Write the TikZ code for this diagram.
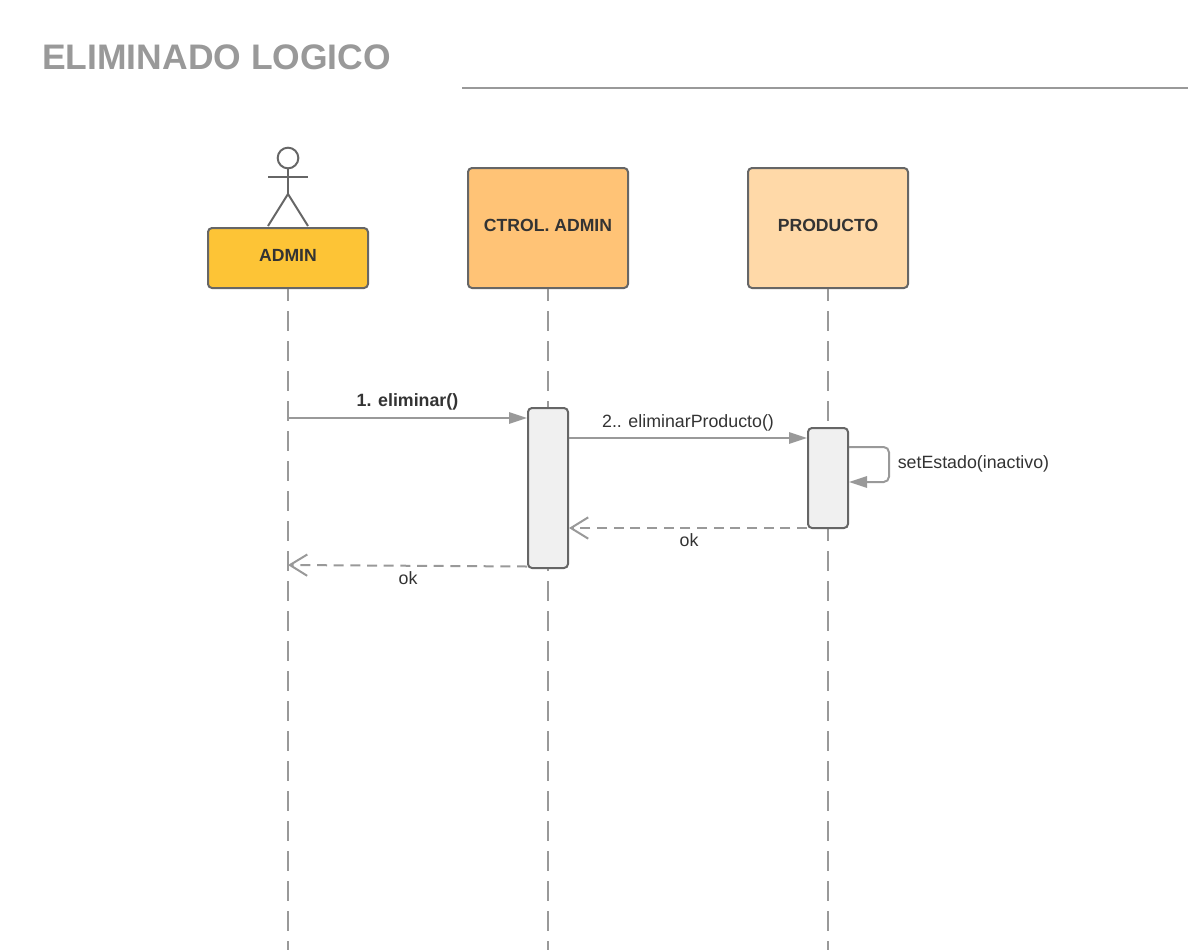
\documentclass[tikz,border=0pt]{standalone}
\usepackage{fontspec}
\setmainfont{Liberation Sans}
\usetikzlibrary{arrows.meta}
\definecolor{linegray}{HTML}{999999}
\definecolor{boxedge}{HTML}{666666}
\definecolor{txt}{HTML}{333333}
\definecolor{adminfill}{RGB}{253,196,54}
\definecolor{ctrlfill}{RGB}{255,195,118}
\definecolor{prodfill}{RGB}{255,217,168}
\definecolor{actfill}{RGB}{240,240,240}
\tikzset{
  x=0.75pt,y=-0.75pt,
  actorbox/.style={draw=boxedge,line width=1.5pt,rounded corners=3pt,minimum width=120pt,inner sep=0pt,text=txt,text height=9pt,text depth=4.5pt,font=\fontsize{13.2}{15}\selectfont\bfseries},
  activation/.style={draw=boxedge,line width=1.5pt,fill=actfill,rounded corners=3pt,minimum width=30pt,inner sep=0pt},
  lifeline/.style={draw=linegray,line width=1.5pt,dash pattern=on 15pt off 7.5pt,dash phase=6pt},
  msg/.style={draw=linegray,line width=1.5pt,-{Triangle[length=13.5pt,width=8.5pt,fill=linegray]}},
  selfmsg/.style={draw=linegray,line width=1.5pt,rounded corners=4pt,-{Triangle[length=13.5pt,width=8.5pt,fill=linegray]}},
  reply/.style={draw=linegray,line width=1.5pt,dash pattern=on 7.5pt off 5pt,-{Straight Barb[length=13pt,width=16pt]}},
  lbl/.style={text=txt,inner sep=0pt,font=\fontsize{13.35}{15}\selectfont},
  boldlbl/.style={lbl,font=\fontsize{13.35}{15}\selectfont\bfseries},
  stick/.style={draw=boxedge,line width=1.5pt}
}
\begin{document}
\begin{tikzpicture}
\useasboundingbox (0,0) rectangle (1188,950);
\node[anchor=west,inner sep=0pt,text=linegray,font=\fontsize{26.6}{30}\selectfont\bfseries] (title) at (42,57) {ELIMINADO LOGICO};
\coordinate (ruleA) at (462,88);
\coordinate (ruleB) at (1188,88);
\draw[linegray,line width=1.5pt] (ruleA) -- (ruleB);

\node[actorbox,fill=adminfill,minimum height=45pt] (admin) at (288,258) {ADMIN};
\node[actorbox,fill=ctrlfill,minimum height=90pt] (ctrl) at (548,228) {CTROL. ADMIN};
\node[actorbox,fill=prodfill,minimum height=90pt] (prod) at (828,228) {PRODUCTO};

\coordinate (endA) at (288,950);
\coordinate (endC) at (548,950);
\coordinate (endP) at (828,950);
\draw[lifeline] (admin.south) -- (endA);
\draw[lifeline] (ctrl.south) -- (endC);
\draw[lifeline] (prod.south) -- (endP);

% actor figure
\node[draw=boxedge,line width=1.5pt,circle,minimum size=15.5pt,inner sep=0pt] (head) at (288,158) {};
\coordinate (hip) at (288,194);
\coordinate (armL) at (268,177);
\coordinate (armR) at (308,177);
\coordinate (legL) at (268,226);
\coordinate (legR) at (308,226);
\draw[stick] (head.south) -- (hip);
\draw[stick] (armL) -- (armR);
\draw[stick] (legL) -- (hip) -- (legR);

\node[activation,minimum height=120pt] (actC) at (548,488) {};
\node[activation,minimum height=75pt] (actP) at (828,478) {};

\coordinate (m1s) at (288,418);
\coordinate (m5e) at (288,565);
\draw[msg] (m1s) -- (actC.west |- m1s);
\node[boldlbl] (l1) at (407.5,402) {1. eliminar()};
\draw[msg] (actC.east |- 0,438) -- (actP.west |- 0,438);
\node[lbl] (l2) at (688,423) {2.. eliminarProducto()};
\draw[selfmsg] (actP.east |- 0,447) -- (889,447) -- (889,482) -- (actP.east |- 0,482);
\node[lbl,anchor=west] (l3) at (897.5,464) {setEstado(inactivo)};
\draw[reply] (actP.west |- 0,528) -- (actC.east |- 0,528);
\node[lbl] (l4) at (689,540) {ok};
\draw[reply] (actC.west |- 0,566.5) -- (m5e);
\node[lbl] (l5) at (408,578) {ok};
\end{tikzpicture}
\end{document}
